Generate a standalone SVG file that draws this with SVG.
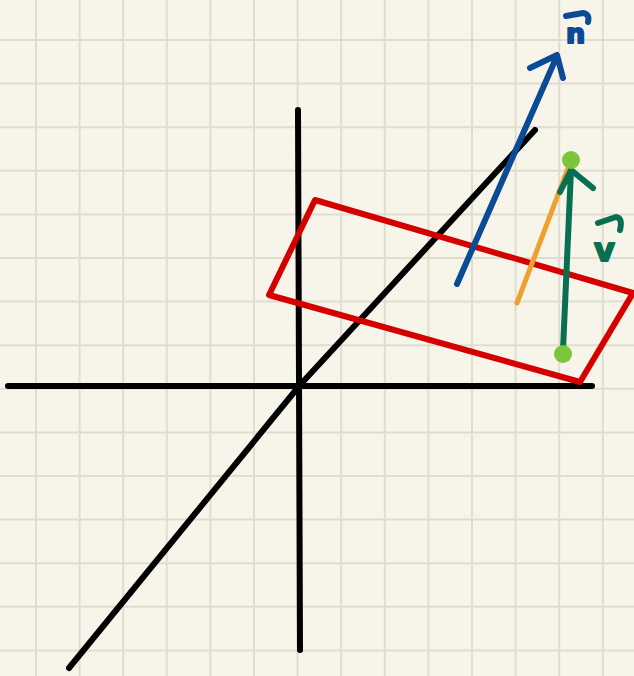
<svg xmlns="http://www.w3.org/2000/svg" width="634" height="676" viewBox="0 0 634 676">
<defs>
<style>
.grid line{stroke:#e0ddd0;stroke-width:2}
.s{fill:none;stroke-linecap:round;stroke-linejoin:round}
.axis{stroke:#000;stroke-width:6}
.red{stroke:#d40000;stroke-width:6}
.blue{stroke:#0b4b96;stroke-width:6}
.green{stroke:#087050;stroke-width:6}
.orange{stroke:#f0a030;stroke-width:5}
.dot{fill:#7cc43a}
.lbl{font-family:"DejaVu Sans",sans-serif;font-weight:bold;stroke-width:2;stroke-linejoin:round}
</style>
</defs>
<rect width="634" height="676" fill="#f7f5e9"/>
<g class="grid">
<line x1="36" y1="0" x2="36" y2="676"/><line x1="79.6" y1="0" x2="79.6" y2="676"/><line x1="123.2" y1="0" x2="123.2" y2="676"/><line x1="166.8" y1="0" x2="166.8" y2="676"/><line x1="210.4" y1="0" x2="210.4" y2="676"/><line x1="254" y1="0" x2="254" y2="676"/><line x1="297.6" y1="0" x2="297.6" y2="676"/><line x1="341.2" y1="0" x2="341.2" y2="676"/><line x1="384.8" y1="0" x2="384.8" y2="676"/><line x1="428.4" y1="0" x2="428.4" y2="676"/><line x1="472" y1="0" x2="472" y2="676"/><line x1="515.6" y1="0" x2="515.6" y2="676"/><line x1="559.2" y1="0" x2="559.2" y2="676"/><line x1="602.8" y1="0" x2="602.8" y2="676"/>
<line x1="0" y1="40" x2="634" y2="40"/><line x1="0" y1="83.6" x2="634" y2="83.6"/><line x1="0" y1="127.2" x2="634" y2="127.2"/><line x1="0" y1="170.8" x2="634" y2="170.8"/><line x1="0" y1="214.4" x2="634" y2="214.4"/><line x1="0" y1="258" x2="634" y2="258"/><line x1="0" y1="301.6" x2="634" y2="301.6"/><line x1="0" y1="345.2" x2="634" y2="345.2"/><line x1="0" y1="388.8" x2="634" y2="388.8"/><line x1="0" y1="432.4" x2="634" y2="432.4"/><line x1="0" y1="476" x2="634" y2="476"/><line x1="0" y1="519.6" x2="634" y2="519.6"/><line x1="0" y1="563.2" x2="634" y2="563.2"/><line x1="0" y1="606.8" x2="634" y2="606.8"/><line x1="0" y1="650.4" x2="634" y2="650.4"/>
</g>
<g id="axes" class="s axis">
<line x1="8" y1="386" x2="592" y2="386"/>
<line x1="298" y1="110" x2="300" y2="650"/>
<path d="M69,668 L300,385 L535,130"/>
</g>
<g id="plane">
<polygon class="s red" points="315,200 633,293 580,382 269,295"/>
</g>
<g id="normal">
<path class="s blue" d="M457,284 L557,56 M530,68 L557,55 L563,78"/>
<path class="s blue" d="M566,16 L583,13 Q590,14 588,22" stroke-width="5"/>
<text class="lbl" x="566" y="43" font-size="27" fill="#0b4b96" stroke="#0b4b96">n</text>
</g>
<g id="projection">
<line class="s orange" x1="517" y1="303" x2="570" y2="163"/>
</g>
<g id="vector">
<path class="s green" d="M563,350 L571,170 M560,192 L571,170 L593,188"/>
<path class="s green" d="M598,223 L616,217 Q623,218 620,230" stroke-width="5"/>
<text class="lbl" x="594" y="261" font-size="32" fill="#087050" stroke="#087050">v</text>
<circle class="dot" cx="571" cy="160" r="9"/>
<circle class="dot" cx="563" cy="354" r="9"/>
</g>
</svg>
